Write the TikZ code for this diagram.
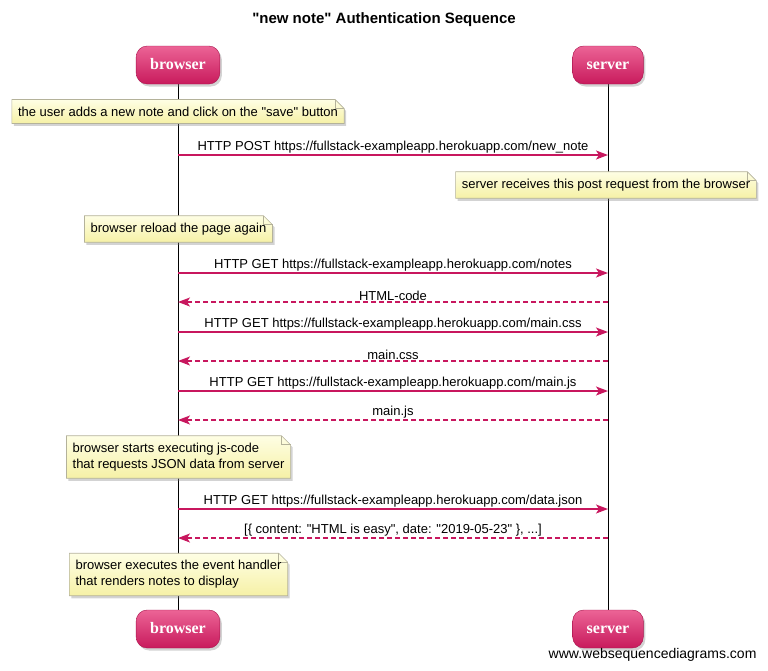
\documentclass[tikz,border=0pt]{standalone}
\usepackage{fontspec}
\setmainfont{Liberation Sans}[Ligatures=TeXOff]
\newfontfamily\actorfont{Liberation Serif}
\usepackage{xcolor}
\usetikzlibrary{arrows.meta,shadows,calc,backgrounds,positioning}
\definecolor{actortop}{HTML}{EC6496}
\definecolor{actorbot}{HTML}{C81A5C}
\definecolor{actorline}{HTML}{A8134C}
\definecolor{msgpink}{HTML}{C8175E}
\definecolor{notetop}{HTML}{FEFEE4}
\definecolor{notebot}{HTML}{F6F1A6}
\definecolor{noteline}{HTML}{B4B29A}
\tikzstyle{actor} = [rounded corners=11pt, draw=actorline, top color=actortop,
  bottom color=actorbot, text=white, minimum height=38pt, inner xsep=14pt,
  text height=11pt, text depth=3pt,
  font=\actorfont\bfseries\fontsize{16}{16}\selectfont,
  drop shadow={shadow xshift=2pt, shadow yshift=-2.5pt, opacity=0.35}]
\tikzstyle{lifeline} = [draw=black, line width=0.9pt]
\tikzstyle{notetext} = [align=left, inner xsep=6pt, inner ysep=7pt,
  font=\fontsize{13}{16}\selectfont]
\tikzstyle{notefill} = [top color=notetop, bottom color=notebot, draw=noteline,
  line width=0.6pt, drop shadow={shadow xshift=2pt, shadow yshift=-2.5pt, opacity=0.35}]
\tikzstyle{msg} = [draw=msgpink, line width=1.5pt,
  -{Stealth[length=12pt, width=9pt, inset=3pt]}]
\tikzstyle{reply} = [msg, dash pattern=on 5pt off 3pt]
\tikzstyle{msglabel} = [midway, above, inner sep=1pt, font=\fontsize{13}{16}\selectfont]
% note with folded corner, drawn behind its text
\newcommand{\notebox}[3]{%
  \node[notetext] (#1) at (#2) {#3};
  \begin{scope}[on background layer]
    \path[notefill] (#1.south west) -- (#1.north west) -- ($(#1.north east)+(-9,0)$)
      -- ($(#1.north east)+(0,9)$) -- (#1.south east) -- cycle;
    \draw[noteline, line width=0.6pt] ($(#1.north east)+(-9,0)$) |- ($(#1.north east)+(0,9)$);
  \end{scope}}

\begin{document}
\begin{tikzpicture}[x=1pt, y=-1pt]
  \useasboundingbox (0,0) rectangle (768,670);
  \node[font=\bfseries\fontsize{15}{18}\selectfont] (title) at (384,20) {"new note" Authentication Sequence};

  % actors
  \node[actor] (bhead) at (178,65) {browser};
  \node[actor] (shead) at (608,65) {server};
  \node[actor] (bfoot) at (178,629) {browser};
  \node[actor] (sfoot) at (608,629) {server};
  \begin{scope}[on background layer]
    \draw[lifeline] (bhead) -- (bfoot);
    \draw[lifeline] (shead) -- (sfoot);
  \end{scope}

  % message rows on both lifelines
  \foreach \i/\y in {1/155, 2/273, 3/302, 4/332, 5/361, 6/391, 7/420, 8/509, 9/538} {
    \coordinate (b\i) at (bhead.south |- 0,\y);
    \coordinate (s\i) at (shead.south |- 0,\y);
  }

  % notes
  \notebox{userclick}{178,111.5}{the user adds a new note and click on the "save" button}
  \notebox{serverpost}{606,185}{server receives this post request from the browser}
  \notebox{reload}{178.5,229}{browser reload the page again}
  \notebox{runjs}{178.5,457}{browser starts executing js-code\\that requests JSON data from server}
  \notebox{render}{178.5,574.5}{browser executes the event handler\\that renders notes to display}

  % messages
  \draw[msg] (b1) -- node[msglabel] {HTTP POST https://fullstack-exampleapp.herokuapp.com/new\_note} (s1);
  \draw[msg] (b2) -- node[msglabel] {HTTP GET https://fullstack-exampleapp.herokuapp.com/notes} (s2);
  \draw[reply] (s3) -- node[msglabel] {HTML-code} (b3);
  \draw[msg] (b4) -- node[msglabel] {HTTP GET https://fullstack-exampleapp.herokuapp.com/main.css} (s4);
  \draw[reply] (s5) -- node[msglabel] {main.css} (b5);
  \draw[msg] (b6) -- node[msglabel] {HTTP GET https://fullstack-exampleapp.herokuapp.com/main.js} (s6);
  \draw[reply] (s7) -- node[msglabel] {main.js} (b7);
  \draw[msg] (b8) -- node[msglabel] {HTTP GET https://fullstack-exampleapp.herokuapp.com/data.json} (s8);
  \draw[reply] (s9) -- node[msglabel] {[\{ content: "HTML is easy", date: "2019-05-23" \}, ...]} (b9);

  \node[anchor=east, font=\fontsize{14}{16}\selectfont] (footer) at (760,655) {www.websequencediagrams.com};
\end{tikzpicture}
\end{document}
